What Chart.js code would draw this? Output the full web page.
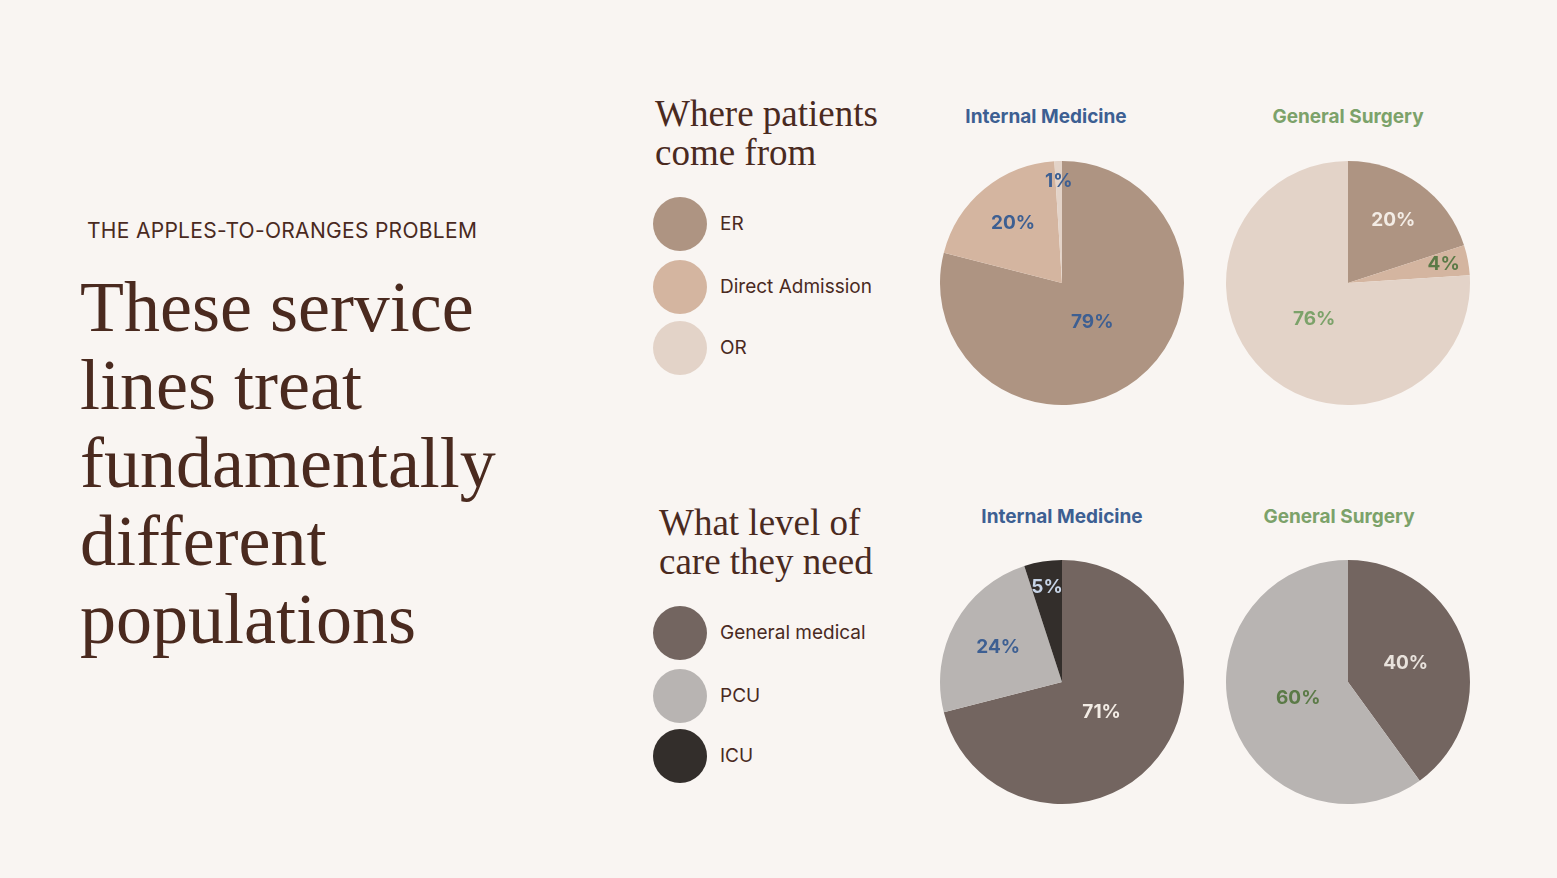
<!DOCTYPE html>
<html><head><meta charset="utf-8">
<script src="https://cdn.jsdelivr.net/npm/chart.js@4/dist/chart.umd.min.js"></script>
<style>
body{margin:0;width:1557px;height:878px;background:#f9f5f2;position:relative;overflow:hidden;font-family:Inter,sans-serif;color:#4a2a1f}
.a{position:absolute;white-space:nowrap}
.serif{font-family:"Liberation Serif","DejaVu Serif",serif}
canvas{position:absolute}
.dot{position:absolute;width:54px;height:54px;border-radius:50%}
</style></head><body>
<div class="a" style="left:87px;top:218px;font-size:21px;letter-spacing:0.3px">THE APPLES-TO-ORANGES PROBLEM</div>
<div class="a serif" style="left:80px;top:268px;font-size:72px;line-height:78px">These service<br>lines treat<br>fundamentally<br>different<br>populations</div>
<div class="a serif" style="left:655px;top:94px;font-size:37px;line-height:39px">Where patients<br>come from</div>
<div class="a serif" style="left:659px;top:503px;font-size:37px;line-height:39px">What level of<br>care they need</div>
<div id="root"></div>
<script>
const originCats=["ER","Direct Admission","OR"];
const originColors=["#ae9482","#d4b5a0","#e3d3c8"];
const careCats=["General medical","PCU","ICU"];
const careColors=["#736560","#b8b4b2","#332e2b"];
const serviceLines=["Internal Medicine","General Surgery"];
const originIM=[79,20,1], originGS=[20,4,76];
const careIM=[71,24,5], careGS=[40,60,0];
const labelColorsOriginIM=["#3d5f92","#3d5f92","#3d5f92"];
const labelColorsOriginGS=["#f3ece5","#5b7a47","#7ca26a"];
const labelColorsCareIM=["#f3ece5","#3d5f92","#c6d3e6"];
const labelColorsCareGS=["#e8e2dc","#5b7a47","#fff"];

const root=document.getElementById('root');
function legend(cats,cols,x,ys){cats.forEach((c,i)=>{
 const d=document.createElement('div');d.className='dot';d.style.left=(x-27)+'px';d.style.top=(ys[i]-27)+'px';d.style.background=cols[i];root.appendChild(d);
 const t=document.createElement('div');t.className='a';t.style.left='720px';t.style.top=(ys[i]-12)+'px';t.style.fontSize='19px';t.textContent=c;root.appendChild(t);});}
legend(originCats,originColors,680,[224,287,348]);
legend(careCats,careColors,680,[633,696,756]);

const lblPlugin={id:'lbl',afterDatasetsDraw(ch){
 const ctx=ch.ctx,ds=ch.data.datasets[0],meta=ch.getDatasetMeta(0);
 ctx.save();ctx.font='bold 19px Inter';ctx.textAlign='center';ctx.textBaseline='middle';
 meta.data.forEach((a,i)=>{const v=ds.data[i];if(!v)return;const p=v/100;
  const f=0.4+0.45*Math.pow(1-p,3);const ang=(a.startAngle+a.endAngle)/2;
  ctx.fillStyle=ds.labelColors[i];
  ctx.fillText(v+'%',a.x+Math.cos(ang)*a.outerRadius*f,a.y+Math.sin(ang)*a.outerRadius*f);});
 ctx.restore();}};

function pie(cx,cy,data,cols,lc,title,tcol,tx,ty){
 const t=document.createElement('div');t.className='a';t.style.left=(tx-150)+'px';t.style.width='300px';t.style.textAlign='center';
 t.style.top=(ty-12)+'px';t.style.fontSize='19px';t.style.fontWeight='bold';t.style.color=tcol;t.textContent=title;root.appendChild(t);
 const c=document.createElement('canvas');c.width=246;c.height=246;c.style.left=(cx-123)+'px';c.style.top=(cy-123)+'px';root.appendChild(c);
 new Chart(c,{type:'pie',data:{labels:originCats,datasets:[{data,backgroundColor:cols,borderWidth:0,labelColors:lc}]},
  options:{responsive:false,animation:false,layout:{padding:1},plugins:{legend:{display:false},tooltip:{enabled:false}}},plugins:[lblPlugin]});
}
pie(1062,283,originIM,originColors,labelColorsOriginIM,serviceLines[0],"#3d5f92",1046,117);
pie(1348,283,originGS,originColors,labelColorsOriginGS,serviceLines[1],"#7ca26a",1348,117);
pie(1062,682,careIM,careColors,labelColorsCareIM,serviceLines[0],"#3d5f92",1062,517);
pie(1348,682,careGS,careColors,labelColorsCareGS,serviceLines[1],"#7ca26a",1339,517);
</script></body></html>
